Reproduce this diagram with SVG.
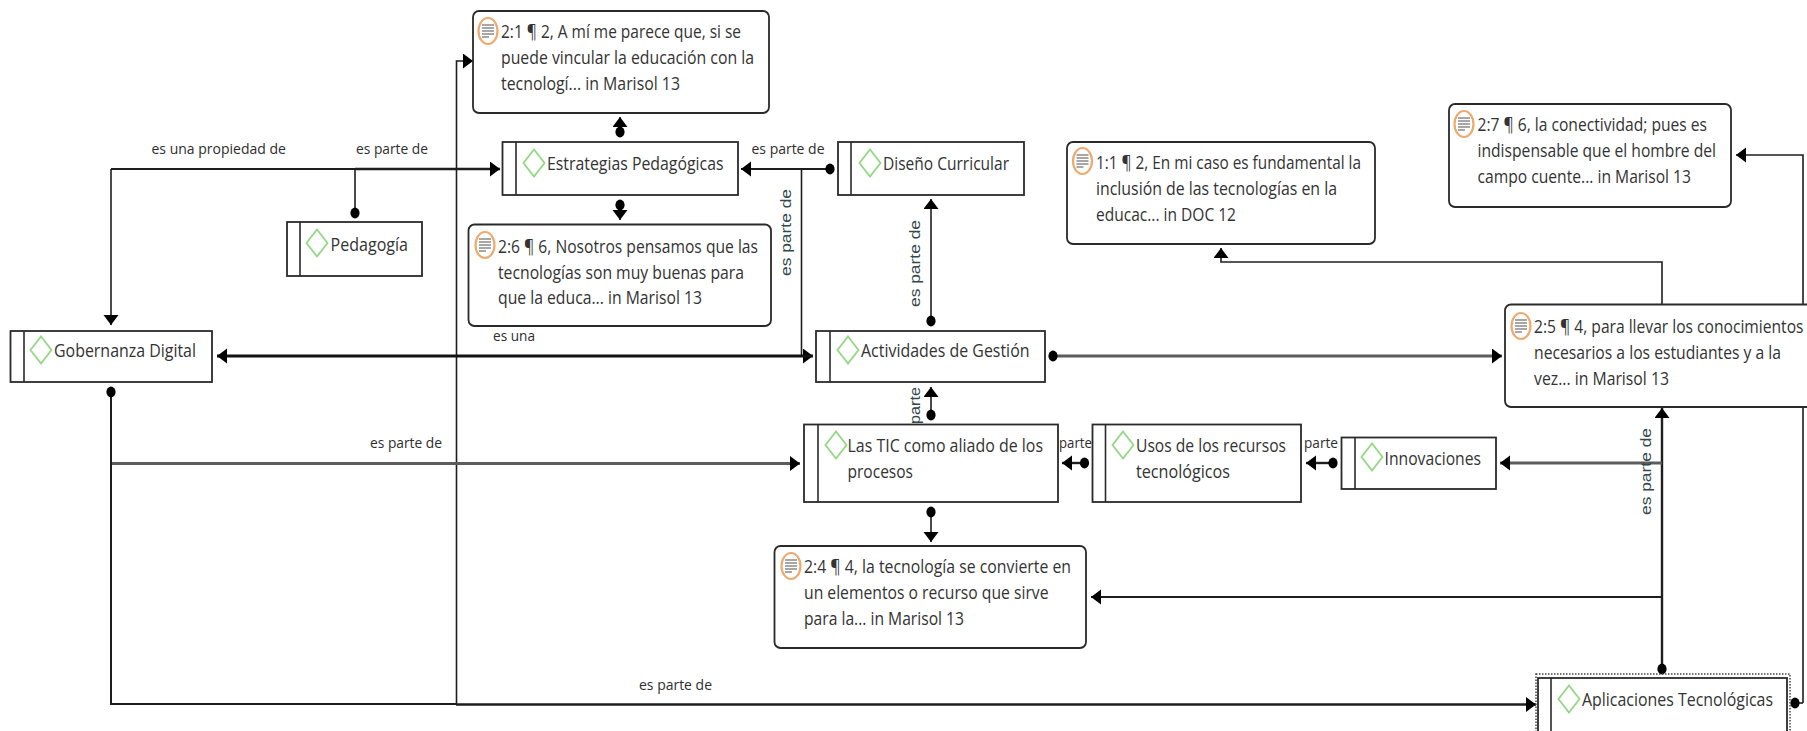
<svg xmlns="http://www.w3.org/2000/svg" width="1807" height="731" viewBox="0 0 1807 731">
<style>
text{font-family:"Open Sans","Noto Sans","Liberation Sans",sans-serif;fill:#333;font-size:19px}
.lb{font-size:15px;fill:#2e2e2e}
.vl{font-size:14px;fill:#33484c;font-family:"Liberation Sans",sans-serif}
.box{fill:#fff;stroke:#2a2a2a;stroke-width:1.8}
.bar{stroke:#2a2a2a;stroke-width:1.6;fill:none}
.note{fill:#fff;stroke:#2a2a2a;stroke-width:1.8}
.c{fill:none;stroke:#1e1e1e;stroke-width:1.6}
.t{fill:none;stroke:#111;stroke-width:3}
.g{fill:none;stroke:#5c5c5c;stroke-width:2.8}
.e{marker-end:url(#arr)}
.s{marker-start:url(#dot)}
</style>
<defs>
<marker id="arr" markerUnits="userSpaceOnUse" markerWidth="12" markerHeight="16" refX="10" refY="7.5" orient="auto"><path d="M0 0L10 7.500L0 15Z" fill="#000"/></marker>
<marker id="dot" markerUnits="userSpaceOnUse" markerWidth="12" markerHeight="12" refX="6" refY="6"><ellipse cx="6" cy="6" rx="4.600" ry="5.400" fill="#000"/></marker>
<g id="dia"><path d="M0 -13.500L10.500 0L0 13.500L-10.500 0Z" fill="#fff" stroke="#93d884" stroke-width="1.800"/></g>
<g id="doc"><ellipse cx="0" cy="0" rx="9.500" ry="13" fill="#fff" stroke="#eeaa6e" stroke-width="2.200"/><path d="M-6 -6H6M-6 -3H6M-6 0H6M-6 3H6M-6 6H1" stroke="#8a8a8a" stroke-width="1.700" fill="none"/></g>
</defs>
<rect width="1807" height="731" fill="#fff"/>
<g id="connectors">
<path class="c e" d="M456.500 704V61H473"/>
<path class="c e" d="M111 169V325"/>
<path class="c" style="stroke-width:2" d="M111 169H355"/>
<path class="c e" style="stroke-width:2.400" d="M355 169H500"/>
<path class="c s" d="M355 213V169"/>
<path class="c s e" d="M620 132V117"/>
<path class="c s e" d="M620 205V220"/>
<path class="c s e" style="stroke-width:2" d="M830 169H741"/>
<path class="c e" d="M801.500 169V356H813"/>
<path class="t e" d="M813 356H217"/>
<path class="c s e" d="M931 321V199"/>
<path class="g s e" d="M1053 356H1502"/>
<path class="c e" d="M1662 304V262H1221V248"/>
<path class="c e" d="M1803 304V155H1736"/>
<path class="c" d="M1803 407V703"/>
<path class="c s" d="M1795 703H1803"/>
<path class="c s e" style="stroke-width:2.400" d="M1662 669V408"/>
<path class="g e" d="M1662 463H1500"/>
<path class="c e" style="stroke-width:2" d="M1662 597H1091"/>
<path class="c s e" d="M931 415V387"/>
<path class="c s e" d="M931 512V542"/>
<path class="c s e" style="stroke-width:2.400" d="M1084.500 463H1062"/>
<path class="c s e" style="stroke-width:2.400" d="M1333 463H1306"/>
<path class="g e" d="M111 463.500H800"/>
<path class="c s" style="stroke-width:2" d="M111 392V704H456"/>
<path class="c e" style="stroke-width:2.600" d="M456 704.500H1536"/>
<g id="connector-labels">
<text class="lb" x="151.500" y="154" textLength="134.500" lengthAdjust="spacingAndGlyphs">es una propiedad de</text>
<text class="lb" x="356" y="154" textLength="72" lengthAdjust="spacingAndGlyphs">es parte de</text>
<text class="lb" x="751.500" y="154" textLength="73" lengthAdjust="spacingAndGlyphs">es parte de</text>
<text class="lb" x="493" y="341" textLength="42" lengthAdjust="spacingAndGlyphs">es una</text>
<text class="lb" x="370" y="448" textLength="72" lengthAdjust="spacingAndGlyphs">es parte de</text>
<text class="lb" x="639" y="690" textLength="73" lengthAdjust="spacingAndGlyphs">es parte de</text>
<text class="lb" x="1059" y="448" textLength="33" lengthAdjust="spacingAndGlyphs">parte</text>
<text class="lb" x="1304" y="448" textLength="34" lengthAdjust="spacingAndGlyphs">parte</text>
<text class="vl" transform="translate(791 276) rotate(-90)" textLength="87" lengthAdjust="spacingAndGlyphs">es parte de</text>
<text class="vl" transform="translate(920 307) rotate(-90)" textLength="87" lengthAdjust="spacingAndGlyphs">es parte de</text>
<text class="vl" transform="translate(920 424) rotate(-90)" textLength="37" lengthAdjust="spacingAndGlyphs">parte</text>
<text class="vl" transform="translate(1651 515) rotate(-90)" textLength="87" lengthAdjust="spacingAndGlyphs">es parte de</text>
</g>
</g>
<g id="n-2-1"><rect class="note" x="473" y="11" width="296" height="102" rx="6"/><use href="#doc" x="488" y="31"/>
<text x="501" y="38" textLength="240" lengthAdjust="spacingAndGlyphs">2:1 ¶ 2, A mí me parece que, si se</text>
<text x="501" y="64" textLength="253" lengthAdjust="spacingAndGlyphs">puede vincular la educación con la</text>
<text x="501" y="90" textLength="179" lengthAdjust="spacingAndGlyphs">tecnologí... in Marisol 13</text></g>
<g id="n-estrategias"><rect class="box" x="502.500" y="142" width="235.500" height="53"/><path class="bar" d="M516 142V195"/><use href="#dia" x="534" y="163"/>
<text x="547" y="170" textLength="176.500" lengthAdjust="spacingAndGlyphs">Estrategias Pedagógicas</text></g>
<g id="n-pedagogia"><rect class="box" x="287" y="222" width="135" height="54"/><path class="bar" d="M300 222V276"/><use href="#dia" x="317" y="243"/>
<text x="330.500" y="251" textLength="77.500" lengthAdjust="spacingAndGlyphs">Pedagogía</text></g>
<g id="n-2-6"><rect class="note" x="468.500" y="224.500" width="302.500" height="101.500" rx="6"/><use href="#doc" x="485" y="245"/>
<text x="498" y="253" textLength="260" lengthAdjust="spacingAndGlyphs">2:6 ¶ 6, Nosotros pensamos que las</text>
<text x="498" y="279" textLength="246" lengthAdjust="spacingAndGlyphs">tecnologías son muy buenas para</text>
<text x="498" y="304" textLength="204" lengthAdjust="spacingAndGlyphs">que la educa... in Marisol 13</text></g>
<g id="n-gobernanza"><rect class="box" x="10.500" y="331" width="201.500" height="51"/><path class="bar" d="M24 331V382"/><use href="#dia" x="41" y="350"/>
<text x="54" y="357" textLength="142" lengthAdjust="spacingAndGlyphs">Gobernanza Digital</text></g>
<g id="n-diseno"><rect class="box" x="838" y="142" width="186" height="53"/><path class="bar" d="M851 142V195"/><use href="#dia" x="870" y="163"/>
<text x="883" y="170" textLength="126" lengthAdjust="spacingAndGlyphs">Diseño Curricular</text></g>
<g id="n-1-1"><rect class="note" x="1067" y="142" width="308" height="102" rx="6"/><use href="#doc" x="1082.500" y="161"/>
<text x="1096" y="169" textLength="265" lengthAdjust="spacingAndGlyphs">1:1 ¶ 2, En mi caso es fundamental la</text>
<text x="1096" y="195" textLength="241" lengthAdjust="spacingAndGlyphs">inclusión de las tecnologías en la</text>
<text x="1096" y="221" textLength="140" lengthAdjust="spacingAndGlyphs">educac... in DOC 12</text></g>
<g id="n-2-7"><rect class="note" x="1449" y="104" width="282" height="103" rx="6"/><use href="#doc" x="1464" y="124"/>
<text x="1477.500" y="131" textLength="229.500" lengthAdjust="spacingAndGlyphs">2:7 ¶ 6, la conectividad; pues es</text>
<text x="1477.500" y="157" textLength="238.500" lengthAdjust="spacingAndGlyphs">indispensable que el hombre del</text>
<text x="1477.500" y="183" textLength="213.500" lengthAdjust="spacingAndGlyphs">campo cuente... in Marisol 13</text></g>
<g id="n-actividades"><rect class="box" x="816" y="331" width="229" height="51"/><path class="bar" d="M830 331V382"/><use href="#dia" x="848" y="350"/>
<text x="861" y="357" textLength="168.500" lengthAdjust="spacingAndGlyphs">Actividades de Gestión</text></g>
<g id="n-2-5"><rect class="note" x="1505" y="304.500" width="320" height="102.500" rx="6"/><use href="#doc" x="1521" y="326"/>
<text x="1534" y="333" textLength="269.500" lengthAdjust="spacingAndGlyphs">2:5 ¶ 4, para llevar los conocimientos</text>
<text x="1534" y="359" textLength="247" lengthAdjust="spacingAndGlyphs">necesarios a los estudiantes y a la</text>
<text x="1534" y="385" textLength="135" lengthAdjust="spacingAndGlyphs">vez... in Marisol 13</text></g>
<g id="n-tic"><rect class="box" x="804" y="424.500" width="254" height="77.500"/><path class="bar" d="M818 424.500V502"/><use href="#dia" x="836" y="445"/>
<text x="847.500" y="452" textLength="195.500" lengthAdjust="spacingAndGlyphs">Las TIC como aliado de los</text>
<text x="847.500" y="478" textLength="65.500" lengthAdjust="spacingAndGlyphs">procesos</text></g>
<g id="n-usos"><rect class="box" x="1092.500" y="424.500" width="208.500" height="77.500"/><path class="bar" d="M1105.500 424.500V502"/><use href="#dia" x="1123" y="445"/>
<text x="1136" y="452" textLength="150" lengthAdjust="spacingAndGlyphs">Usos de los recursos</text>
<text x="1136" y="478" textLength="94" lengthAdjust="spacingAndGlyphs">tecnológicos</text></g>
<g id="n-innovaciones"><rect class="box" x="1341.500" y="437.500" width="154.500" height="51.500"/><path class="bar" d="M1355 437.500V489"/><use href="#dia" x="1372" y="457"/>
<text x="1384.500" y="465" textLength="96.500" lengthAdjust="spacingAndGlyphs">Innovaciones</text></g>
<g id="n-2-4"><rect class="note" x="774.500" y="546" width="311.500" height="102" rx="6"/><use href="#doc" x="791" y="566"/>
<text x="804" y="573" textLength="267" lengthAdjust="spacingAndGlyphs">2:4 ¶ 4, la tecnología se convierte en</text>
<text x="804" y="599" textLength="244.500" lengthAdjust="spacingAndGlyphs">un elementos o recurso que sirve</text>
<text x="804" y="625" textLength="160" lengthAdjust="spacingAndGlyphs">para la... in Marisol 13</text></g>
<g id="n-aplicaciones"><rect x="1536" y="674" width="254" height="60" fill="none" stroke="#444" stroke-width="1.500" stroke-dasharray="1.500 1.500"/><rect class="box" x="1538" y="678" width="249" height="60"/><path class="bar" d="M1551 678V738"/><use href="#dia" x="1569" y="699"/>
<text x="1582" y="706" textLength="191" lengthAdjust="spacingAndGlyphs">Aplicaciones Tecnológicas</text></g>
</svg>
